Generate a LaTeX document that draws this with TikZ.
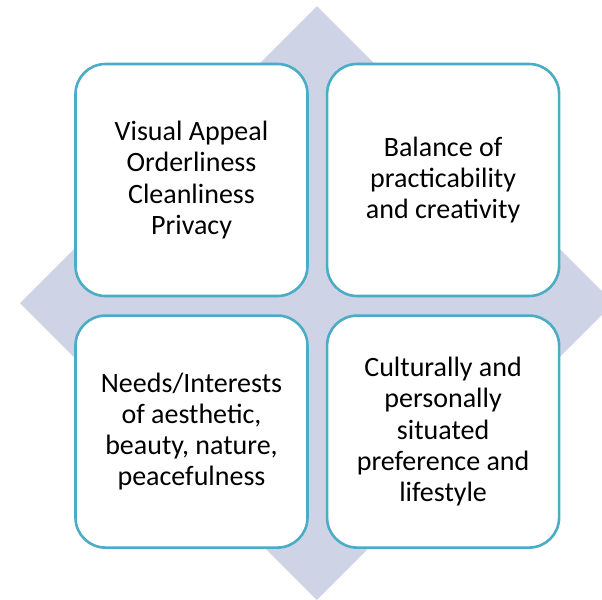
\documentclass[tikz,border=0pt]{standalone}
\usepackage{fontspec}
\setmainfont{Carlito}
\usepackage{tikz}
\usetikzlibrary{positioning}

\definecolor{quadborder}{HTML}{4BACC6}
\definecolor{diamondfill}{HTML}{CED4E6}

\begin{document}
\begin{tikzpicture}[
    x=0.5pt, y=-0.5pt,
    node distance=8.5pt,
    quad/.style={rectangle, rounded corners=15pt, draw=quadborder, line width=1.3pt, fill=white, minimum width=116pt, minimum height=116pt, align=center, font=\fontsize{14}{15.6}\selectfont}
]
\useasboundingbox (0,0) rectangle (602,600);

% Background diamond
\fill[diamondfill] (317,6) -- (614,303) -- (317,600) -- (20,303) -- cycle;

% Top row
\node[quad] (appeal) at (191.5,180) {Visual Appeal\\Orderliness\\Cleanliness\\Privacy};
\node[quad, right=of appeal] (balance) {Balance of\\practicability\\and creativity};

% Bottom row
\node[quad, below=of appeal] (needs) {Needs/Interests\\of aesthetic,\\beauty, nature,\\peacefulness};
\node[quad, right=of needs] (culture) {Culturally and\\personally\\situated\\preference and\\lifestyle};

\end{tikzpicture}
\end{document}
